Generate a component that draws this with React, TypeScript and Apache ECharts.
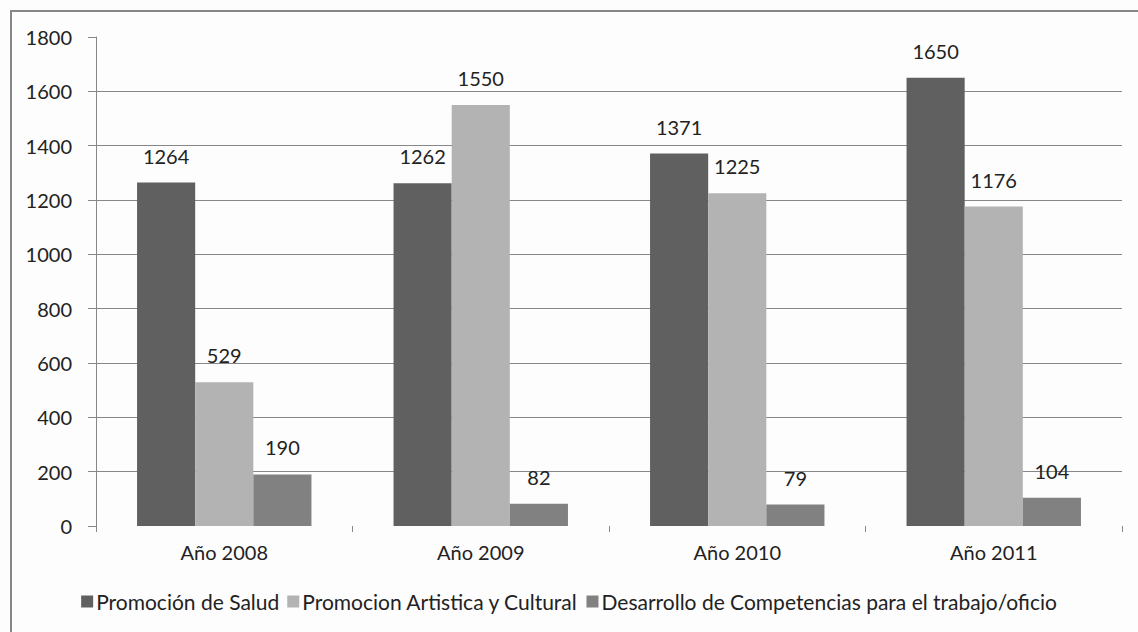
import React, { useEffect, useRef } from "react";
import * as echarts from "echarts";

const categories = ["Año 2008", "Año 2009", "Año 2010", "Año 2011"];
const seriesNames = [
  "Promoción de Salud",
  "Promocion Artistica y Cultural",
  "Desarrollo de Competencias para el trabajo/oficio",
];
const promocionSalud = [1264, 1262, 1371, 1650];
const promocionArtistica = [529, 1550, 1225, 1176];
const desarrolloCompetencias = [190, 82, 79, 104];
const yTicks = [0, 200, 400, 600, 800, 1000, 1200, 1400, 1600, 1800];

const colors = ["#606060", "#b3b3b3", "#818181"];
const FONT = "Lato";

export default function App() {
  const ref = useRef<HTMLDivElement>(null);
  useEffect(() => {
    if (!ref.current) return;
    const chart = echarts.init(ref.current, undefined, { renderer: "svg" });
    const gridColors = yTicks.map((v, i) =>
      i === 0 || i === yTicks.length - 1 ? "rgba(0,0,0,0)" : "#878787"
    );
    const values = [promocionSalud, promocionArtistica, desarrolloCompetencias];
    chart.setOption({
      animation: false,
      backgroundColor: "#fdfdfd",
      textStyle: { fontFamily: FONT },
      graphic: [
        {
          type: "rect",
          shape: { x: 11, y: 11, width: 1140, height: 640 },
          style: { fill: "none", stroke: "#878787", lineWidth: 2 },
          silent: true,
        },
      ],
      grid: { left: 96, right: 16, top: 37, bottom: 106, containLabel: false },
      legend: {
        bottom: 15,
        left: "center",
        itemWidth: 12,
        itemHeight: 12,
        itemGap: 8,
        icon: "rect",
        textStyle: { fontFamily: FONT, fontSize: 21, color: "#222", padding: [0, 0, 0, -2] },
        data: seriesNames,
      },
      xAxis: {
        type: "category",
        data: categories,
        axisLine: { show: false },
        axisTick: { show: true, length: 6, lineStyle: { color: "#878787" } },
        axisLabel: { fontFamily: FONT, fontSize: 20, color: "#222", margin: 16 },
      },
      yAxis: {
        type: "value",
        min: 0,
        max: 1800,
        interval: 200,
        axisLine: { show: true, lineStyle: { color: "#878787" } },
        axisTick: { show: true, length: 8, lineStyle: { color: "#878787" } },
        axisLabel: {
          fontFamily: FONT,
          fontSize: 20,
          color: "#222",
          margin: 24,
          formatter: (v: number) => String(v),
        },
        splitLine: { show: true, lineStyle: { color: gridColors, width: 1 } },
      },
      series: seriesNames.map((name, i) => ({
        name,
        type: "bar",
        data: values[i],
        barGap: "0%",
        barCategoryGap: "32%",
        itemStyle: { color: colors[i] },
        label: {
          show: true,
          position: "top",
          distance: 17,
          fontFamily: FONT,
          fontSize: 20,
          color: "#222",
        },
      })),
    });
    return () => chart.dispose();
  }, []);
  return (
    <div
      ref={ref}
      style={{ position: "absolute", left: 0, top: 0, width: 1138, height: 632 }}
    />
  );
}
